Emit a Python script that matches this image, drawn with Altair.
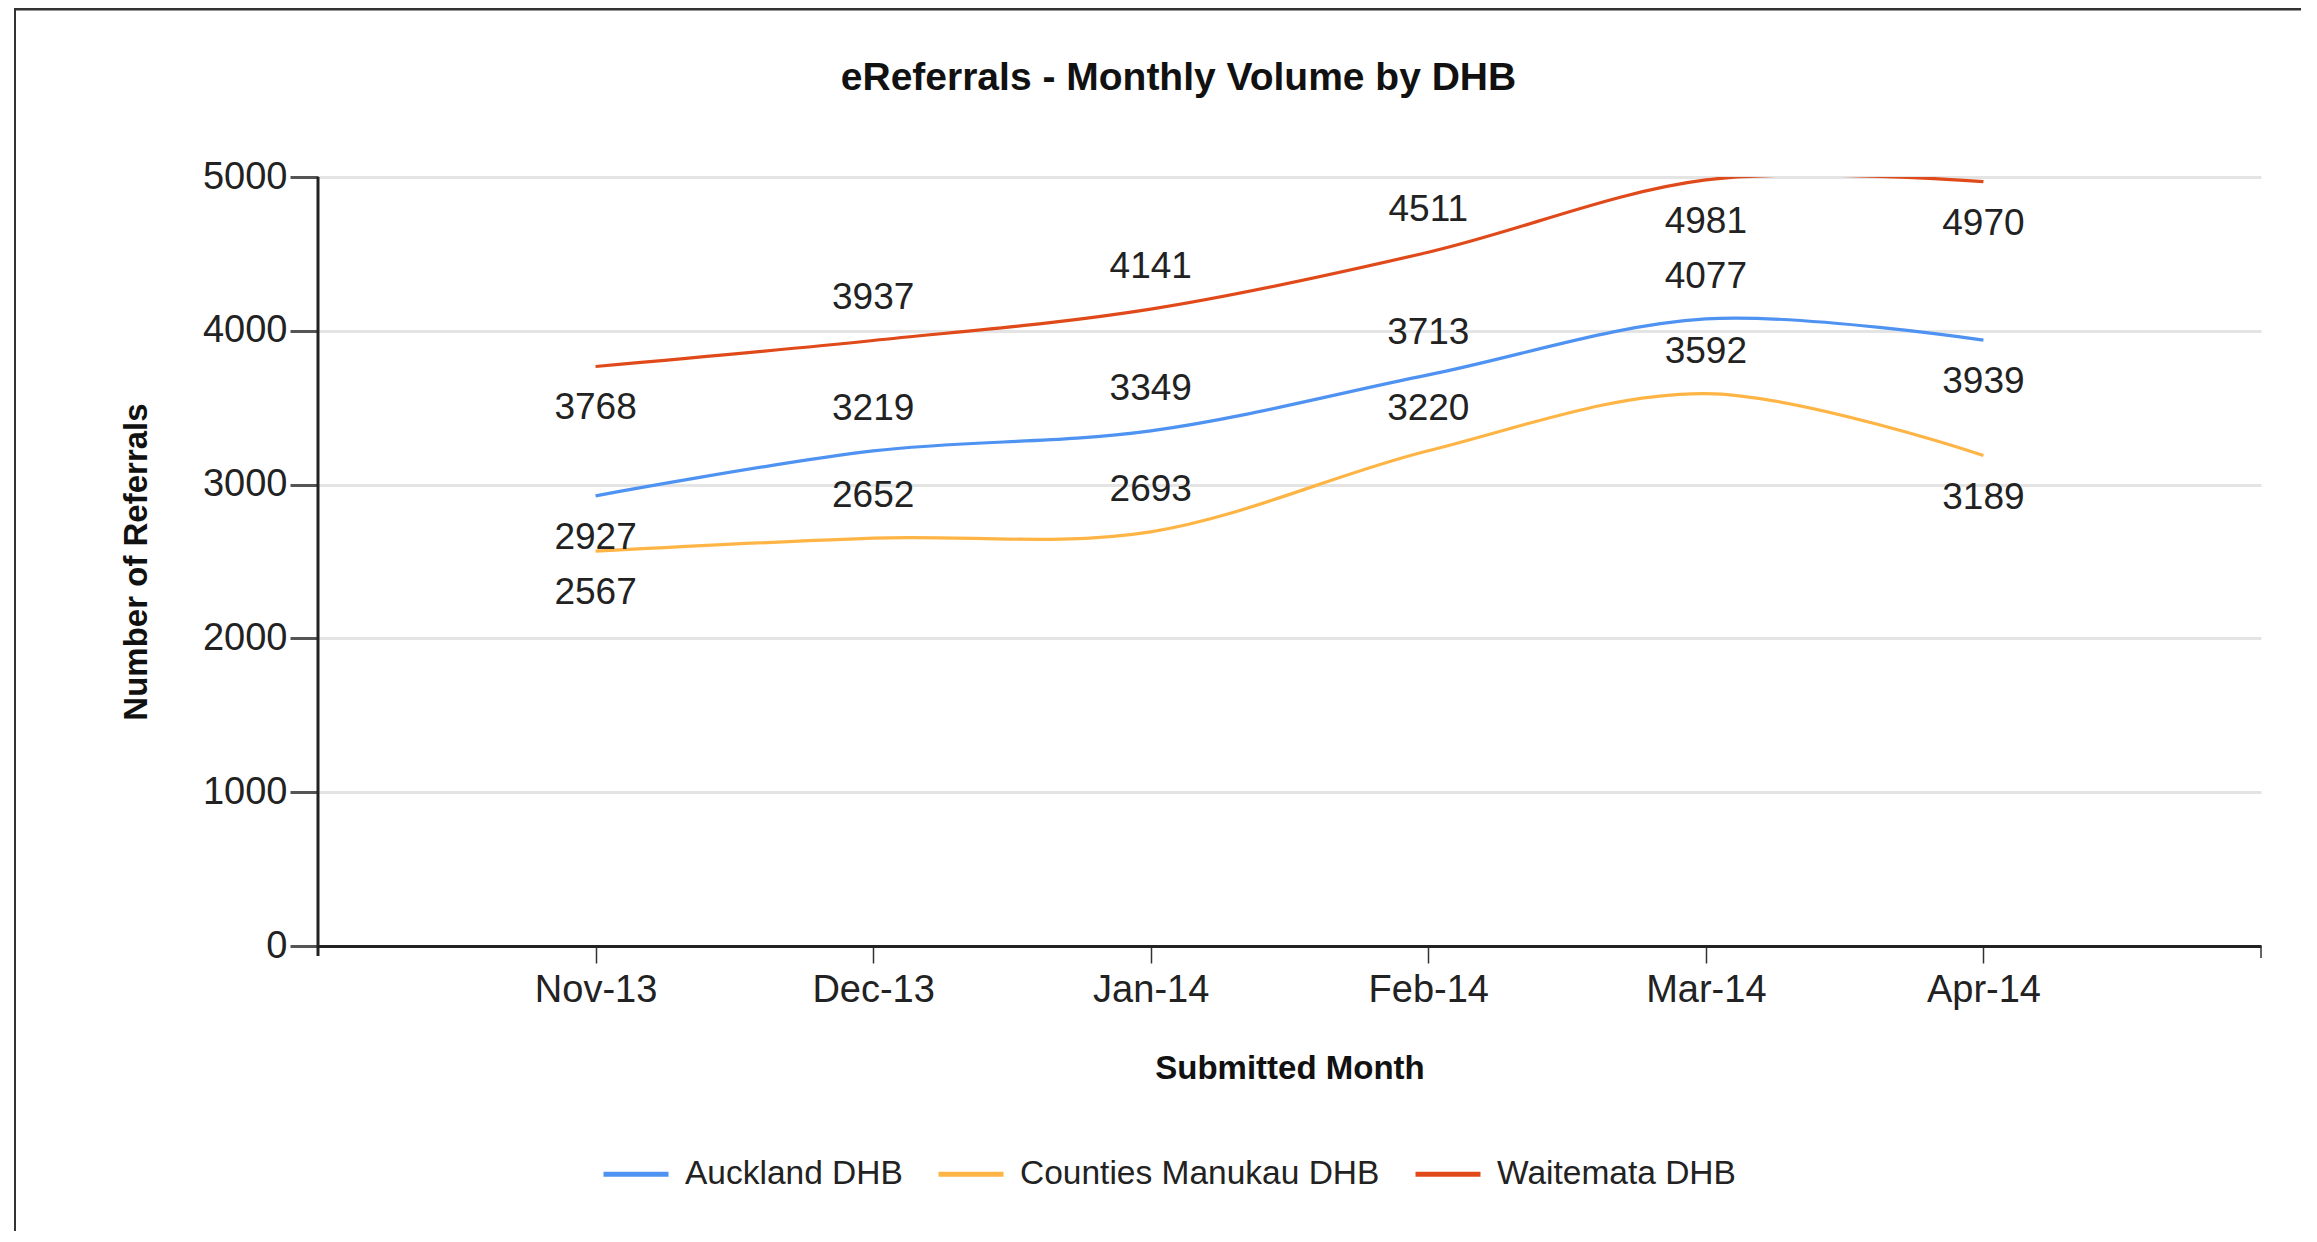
import altair as alt
import pandas as pd

months = ["Nov-13", "Dec-13", "Jan-14", "Feb-14", "Mar-14", "Apr-14"]
series_names = ["Auckland DHB", "Counties Manukau DHB", "Waitemata DHB"]
auckland = [2927, 3219, 3349, 3713, 4077, 3939]
counties = [2567, 2652, 2693, 3220, 3592, 3189]
waitemata = [3768, 3937, 4141, 4511, 4981, 4970]
y_ticks = [0, 1000, 2000, 3000, 4000, 5000]
colors = ["#4f93f2", "#ffb545", "#e04a1a"]

rows = []
for name, vals in zip(series_names, [auckland, counties, waitemata]):
    for m, v in zip(months, vals):
        rows.append({"month": m, "dhb": name, "value": v})
df = pd.DataFrame(rows)

W, H = 1943, 769
FONT = "Liberation Sans, Arial, Helvetica, sans-serif"

x_enc = alt.X(
    "month:N",
    sort=months,
    scale=alt.Scale(type="point", padding=1),
    axis=alt.Axis(
        title="Submitted Month",
        titleFontSize=33,
        titleFontWeight="bold",
        titleColor="#111",
        titleY=122,
        titleBaseline="middle",
        labelFontSize=38,
        labelColor="#222",
        labelPadding=8,
        labelAngle=0,
        tickSize=17,
        tickWidth=1.5,
        tickColor="#333",
        domainColor="#222",
        domainWidth=3,
        grid=False,
    ),
)
y_enc = alt.Y(
    "value:Q",
    scale=alt.Scale(domain=[0, 5000], nice=False),
    axis=alt.Axis(
        title="Number of Referrals",
        values=y_ticks,
        format="d",
        titleFontSize=33,
        titleFontWeight="bold",
        titleColor="#111",
        titleX=-182,
        titleY=H / 2,
        titleAngle=270,
        titleBaseline="middle",
        labelFontSize=38,
        labelColor="#222",
        labelPadding=3,
        tickSize=28,
        tickWidth=3,
        tickColor="#555",
        domain=False,
        gridColor="#e4e4e4",
        gridWidth=3,
    ),
)
color_enc = alt.Color(
    "dhb:N",
    scale=alt.Scale(domain=series_names, range=colors),
    legend=alt.Legend(
        orient="none",
        legendX=283,
        legendY=962,
        direction="horizontal",
        title=None,
        symbolType="stroke",
        symbolSize=4225,
        symbolStrokeWidth=5,
        labelFontSize=33.5,
        labelColor="#222",
        labelOffset=14,
        labelLimit=600,
        columnPadding=25,
        labelFont=FONT,
    ),
)

base = alt.Chart(df)

lines = base.mark_line(interpolate="cardinal", strokeWidth=3.2, clip=True).encode(
    x=x_enc, y=y_enc, color=color_enc
)

placement = "(datum.month == 'Nov-13' || datum.month == 'Apr-14' || datum.value > 4900) ? 'below' : 'above'"

labels_above = (
    base.transform_calculate(pos=placement)
    .transform_filter("datum.pos == 'above'")
    .mark_text(fontSize=37, dy=-42, color="#222", font=FONT)
    .encode(x=alt.X("month:N", sort=months), y="value:Q", text="value:Q")
)
labels_below = (
    base.transform_calculate(pos=placement)
    .transform_filter("datum.pos == 'below'")
    .mark_text(fontSize=37, dy=42, color="#222", font=FONT)
    .encode(x=alt.X("month:N", sort=months), y="value:Q", text="value:Q")
)

one = alt.Data(values=[{}])
y_axis_line = alt.Chart(one).mark_rule(color="#222", strokeWidth=3).encode(
    x=alt.value(0), y=alt.value(0), y2=alt.value(H + 10)
)
right_end_tick = alt.Chart(one).mark_rule(color="#333", strokeWidth=1.5).encode(
    x=alt.value(W), y=alt.value(H), y2=alt.value(H + 12)
)
frame_top = alt.Chart(one).mark_rule(color="#333", strokeWidth=3).encode(
    x=alt.value(-303), x2=alt.value(W + 40), y=alt.value(-168)
)
frame_left = alt.Chart(one).mark_rule(color="#333", strokeWidth=2).encode(
    x=alt.value(-303), y=alt.value(-169), y2=alt.value(H + 290)
)

chart = (
    alt.layer(lines, labels_above, labels_below, y_axis_line, right_end_tick, frame_top, frame_left)
    .properties(
        width=W,
        height=H,
        padding={"left": 310, "top": 169, "right": 40, "bottom": 285},
        autosize=alt.AutoSizeParams(type="none"),
        title=alt.Title(
            "eReferrals - Monthly Volume by DHB",
            fontSize=39,
            fontWeight="bold",
            color="#111",
            font=FONT,
            frame="group",
            anchor="middle",
            baseline="alphabetic",
            offset=-122,
            dx=-111,
        ),
    )
    .configure(font=FONT)
    .configure_view(stroke=None)
)

chart.save("out.html", embed_options={"renderer": "svg", "actions": False})
